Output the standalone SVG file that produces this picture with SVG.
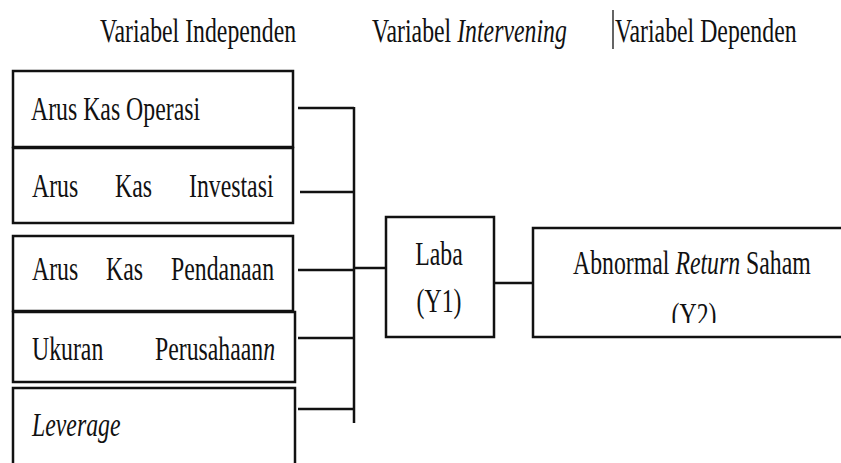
<svg xmlns="http://www.w3.org/2000/svg" width="841" height="463" viewBox="0 0 841 463">
  <defs>
    <style>
      .t { font-family: "Liberation Serif", "Times New Roman", serif; font-size: 33.5px; fill: #111; }
      .i { font-style: italic; }
      .box { fill: #fff; stroke: #111; stroke-width: 2.5; }
      .ln { fill: none; stroke: #111; stroke-width: 2.5; }
    </style>
    <clipPath id="clipY2"><rect x="540" y="230" width="300" height="93"/></clipPath>
  </defs>
  <rect width="841" height="463" fill="#fff"/>

  <g id="headers">
    <text class="t" transform="translate(100,42) scale(0.71,1)">Variabel Independen</text>
    <text class="t" transform="translate(372,42) scale(0.71,1)">Variabel <tspan class="i">Intervening</tspan></text>
    <line x1="613" y1="10" x2="613" y2="49" stroke="#111" stroke-width="1.3"/>
    <text class="t" transform="translate(615,42) scale(0.71,1)">Variabel Dependen</text>
  </g>

  <g id="connectors">
    <path class="ln" d="M298 108 H354 M300 192 H354 M298 270 H354 M298 338 H354 M298 409 H354 M354 107 V423"/>
    <path class="ln" d="M354 268 H386"/>
    <path class="ln" d="M494 283 H533"/>
  </g>

  <g id="arus-kas-operasi">
    <rect class="box" x="13" y="71" width="280" height="76"/>
    <text class="t" transform="translate(31,120) scale(0.71,1)">Arus Kas Operasi</text>
  </g>
  <g id="arus-kas-investasi">
    <rect class="box" x="13" y="148" width="280" height="75"/>
    <text class="t" transform="translate(32,197) scale(0.71,1)"><tspan x="0">Arus</tspan><tspan x="116.9">Kas</tspan><tspan x="221.1">Investasi</tspan></text>
  </g>
  <g id="arus-kas-pendanaan">
    <rect class="box" x="13" y="236" width="280" height="75"/>
    <text class="t" transform="translate(32,280) scale(0.71,1)"><tspan x="0">Arus</tspan><tspan x="104.2">Kas</tspan><tspan x="195.8">Pendanaan</tspan></text>
  </g>
  <g id="ukuran-perusahaan">
    <rect class="box" x="13" y="312" width="282" height="70"/>
    <text class="t" transform="translate(32,360) scale(0.71,1)"><tspan x="0">Ukuran</tspan><tspan x="173.2">Perusahaan</tspan><tspan class="i">n</tspan></text>
  </g>
  <g id="leverage">
    <rect class="box" x="13" y="388" width="282" height="100"/>
    <text class="t i" transform="translate(32,436) scale(0.71,1)">Leverage</text>
  </g>

  <g id="laba">
    <rect class="box" x="386" y="217" width="108" height="120"/>
    <text class="t" text-anchor="middle" transform="translate(439,265) scale(0.71,1)">Laba</text>
    <text class="t" text-anchor="middle" transform="translate(439,312) scale(0.71,1)">(Y1)</text>
  </g>

  <g id="abnormal-return">
    <rect class="box" x="533" y="228" width="330" height="109"/>
    <text class="t" transform="translate(573,274) scale(0.71,1)">Abnormal <tspan class="i">Return</tspan> Saham</text>
    <g clip-path="url(#clipY2)">
      <text class="t" text-anchor="middle" transform="translate(694,326) scale(0.71,1)">(Y2)</text>
    </g>
  </g>
</svg>
